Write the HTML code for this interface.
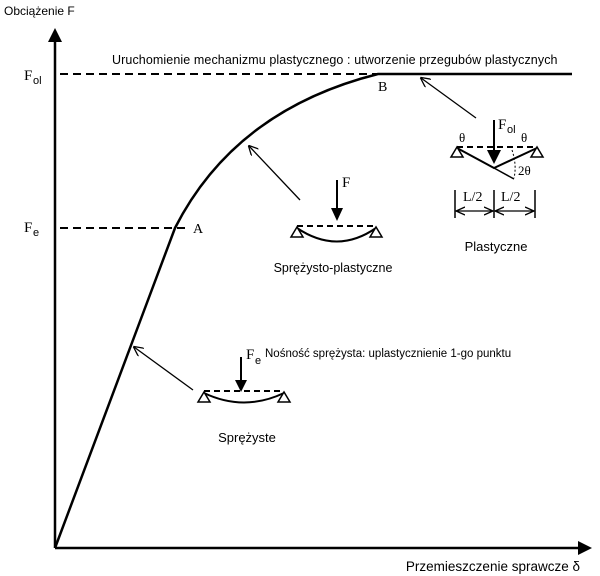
<!DOCTYPE html>
<html><head><meta charset="utf-8"><style>
html,body{margin:0;padding:0;background:#fff;}
svg{display:block;}
text{font-family:"Liberation Sans",sans-serif;fill:#000;}
.s{font-family:"Liberation Serif",serif;}
</style></head><body>
<svg width="600" height="576" viewBox="0 0 600 576" xmlns="http://www.w3.org/2000/svg">
<defs>
<marker id="oa" markerWidth="10" markerHeight="10" refX="9" refY="5" orient="auto" markerUnits="userSpaceOnUse"><path d="M0,0 L10,5 L0,10" fill="none" stroke="#000" stroke-width="1.3"/></marker>
<marker id="oa2" markerWidth="10" markerHeight="10" refX="9" refY="5" orient="auto-start-reverse" markerUnits="userSpaceOnUse"><path d="M0,1 L9,5 L0,9" fill="none" stroke="#000" stroke-width="1.3"/></marker>
</defs>
<text x="4" y="15" font-size="12">Obciążenie F</text>
<line x1="55" y1="548" x2="55" y2="40" stroke="#000" stroke-width="2.5"/>
<path d="M48,42 L55,28 L62,42 Z"/>
<line x1="55" y1="548" x2="580" y2="548" stroke="#000" stroke-width="2.5"/>
<path d="M578,541 L592,548 L578,555 Z"/>
<text x="580" y="571" font-size="13.5" text-anchor="end">Przemieszczenie sprawcze δ</text>
<line x1="60" y1="74" x2="378" y2="74" stroke="#000" stroke-width="2" stroke-dasharray="8,5"/>
<line x1="60" y1="228" x2="190" y2="228" stroke="#000" stroke-width="2" stroke-dasharray="8,5"/>
<text class="s" x="24" y="80" font-size="15">F</text><text x="33" y="84" font-size="11">ol</text>
<text class="s" x="24" y="232" font-size="15">F</text><text x="33" y="236" font-size="11">e</text>
<text class="s" x="193" y="233" font-size="14">A</text>
<text class="s" x="378" y="91" font-size="14">B</text>
<path d="M55,548 L175,228 Q235,110 378,74 L572,74" fill="none" stroke="#000" stroke-width="2.5"/>
<text x="112" y="64" font-size="12.5" letter-spacing="0.1">Uruchomienie mechanizmu plastycznego : utworzenie przegubów plastycznych</text>
<line x1="476" y1="118" x2="421" y2="78" stroke="#000" stroke-width="1.3" marker-end="url(#oa)"/>
<line x1="300" y1="200" x2="249" y2="146" stroke="#000" stroke-width="1.3" marker-end="url(#oa)"/>
<line x1="193" y1="390" x2="134" y2="347" stroke="#000" stroke-width="1.3" marker-end="url(#oa)"/>
<line x1="204" y1="391" x2="284" y2="391" stroke="#000" stroke-width="2" stroke-dasharray="6,4"/>
<path d="M204,393 Q244,412 284,393" fill="none" stroke="#000" stroke-width="2"/>
<path d="M204,392 L198,402 L210,402 Z M284,392 L278,402 L290,402 Z" fill="#fff" stroke="#000" stroke-width="1.5"/>
<line x1="241" y1="357" x2="241" y2="382" stroke="#000" stroke-width="2"/>
<path d="M235,380 L241,392 L247,380 Z"/>
<text class="s" x="246" y="359" font-size="15">F</text><text x="255" y="364" font-size="11">e</text>
<text x="265" y="357" font-size="11.5">Nośność sprężysta: uplastycznienie 1-go punktu</text>
<text x="247" y="442" font-size="13" text-anchor="middle">Sprężyste</text>
<line x1="297" y1="226" x2="376" y2="226" stroke="#000" stroke-width="2" stroke-dasharray="6,4"/>
<path d="M297,228 Q337,255 376,228" fill="none" stroke="#000" stroke-width="2"/>
<path d="M297,227 L291,237 L303,237 Z M376,227 L370,237 L382,237 Z" fill="#fff" stroke="#000" stroke-width="1.5"/>
<line x1="337" y1="180" x2="337" y2="210" stroke="#000" stroke-width="2"/>
<path d="M331,208 L337,221 L343,208 Z"/>
<text class="s" x="342" y="187" font-size="15">F</text>
<text x="333" y="272" font-size="12.5" text-anchor="middle">Sprężysto-plastyczne</text>
<line x1="457" y1="147" x2="535" y2="147" stroke="#000" stroke-width="2" stroke-dasharray="6,4"/>
<path d="M457,148 L494,168 L537,148" fill="none" stroke="#000" stroke-width="2"/>
<line x1="494" y1="168" x2="514" y2="179" stroke="#000" stroke-width="1.5"/>
<path d="M512,150 Q517,165 514,178" fill="none" stroke="#000" stroke-width="1" stroke-dasharray="2,2"/>
<path d="M457,147 L451,157 L463,157 Z M537,147 L531,157 L543,157 Z" fill="#fff" stroke="#000" stroke-width="1.5"/>
<line x1="494" y1="120" x2="494" y2="150" stroke="#000" stroke-width="2"/>
<path d="M487,150 L494,164 L501,150 Z"/>
<text class="s" x="498" y="129" font-size="15">F</text><text x="507" y="133" font-size="11">ol</text>
<text class="s" x="459" y="142" font-size="13">θ</text>
<text class="s" x="521" y="142" font-size="13">θ</text>
<text class="s" x="518" y="175" font-size="13">2θ</text>
<line x1="455" y1="190" x2="455" y2="218" stroke="#000" stroke-width="1.5"/>
<line x1="494" y1="190" x2="494" y2="218" stroke="#000" stroke-width="1.5"/>
<line x1="535" y1="190" x2="535" y2="218" stroke="#000" stroke-width="1.5"/>
<line x1="456" y1="211" x2="493" y2="211" stroke="#000" stroke-width="1.3" marker-start="url(#oa2)" marker-end="url(#oa2)"/>
<line x1="495" y1="211" x2="534" y2="211" stroke="#000" stroke-width="1.3" marker-start="url(#oa2)" marker-end="url(#oa2)"/>
<text class="s" x="463" y="201" font-size="14">L/2</text>
<text class="s" x="501" y="201" font-size="14">L/2</text>
<text x="496" y="251" font-size="13" text-anchor="middle">Plastyczne</text>
</svg>
</body></html>
